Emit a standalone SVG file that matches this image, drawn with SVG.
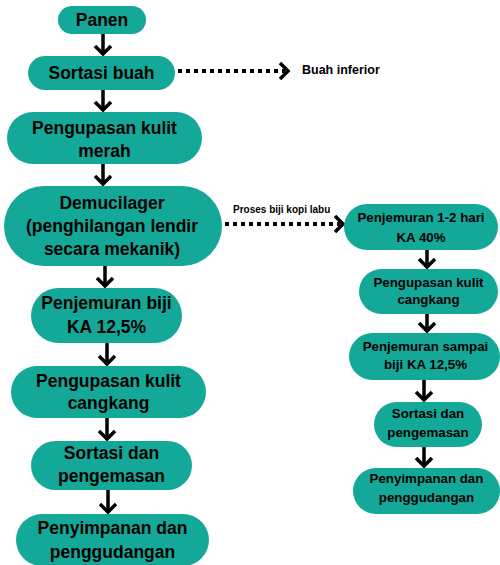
<svg xmlns="http://www.w3.org/2000/svg" width="500" height="565" viewBox="0 0 500 565">
<style>
.n{fill:#14a899;}
.t{font-family:"Liberation Sans",Arial,sans-serif;font-weight:bold;fill:#000;text-anchor:middle;font-size:17.5px;}
.s{font-size:13.3px;}
.a{stroke:#000;stroke-width:3.5;fill:none;}
.d{stroke:#000;stroke-width:4;fill:none;stroke-dasharray:4 4;}
.l{font-family:"Liberation Sans",Arial,sans-serif;font-weight:bold;fill:#000;}
</style>
<defs>
<marker id="ah" markerUnits="userSpaceOnUse" viewBox="-12 -12 14 24" refX="0" refY="0" markerWidth="14" markerHeight="24" orient="auto" overflow="visible">
<path d="M-8,-8 L0,0 L-8,8" stroke="#000" stroke-width="3.5" fill="none"/>
</marker>
</defs>
<g id="connectors">
<line class="a" x1="103" y1="34" x2="103" y2="54" marker-end="url(#ah)"/>
<line class="a" x1="103" y1="90" x2="103" y2="110" marker-end="url(#ah)"/>
<line class="a" x1="103" y1="164" x2="103" y2="184" marker-end="url(#ah)"/>
<line class="a" x1="105" y1="266" x2="105" y2="286" marker-end="url(#ah)"/>
<line class="a" x1="107" y1="343" x2="107" y2="364" marker-end="url(#ah)"/>
<line class="a" x1="107" y1="418" x2="107" y2="439" marker-end="url(#ah)"/>
<line class="a" x1="108" y1="490" x2="108" y2="512" marker-end="url(#ah)"/>
<line class="a" x1="427" y1="250" x2="427" y2="267" marker-end="url(#ah)"/>
<line class="a" x1="427" y1="314" x2="427" y2="331" marker-end="url(#ah)"/>
<line class="a" x1="424" y1="380" x2="424" y2="400" marker-end="url(#ah)"/>
<line class="a" x1="424" y1="447" x2="424" y2="466" marker-end="url(#ah)"/>
<line class="d" x1="178" y1="71" x2="285" y2="71"/>
<path d="M280,63 L288,71 L280,79" class="a"/>
<line class="d" x1="225" y1="224" x2="340" y2="224"/>
<path d="M335,216 L343,224 L335,232" class="a"/>
<text class="l" x="302" y="74" font-size="12.5">Buah inferior</text>
<text class="l" x="233" y="212.5" font-size="10">Proses biji kopi labu</text>
</g>
<g id="panen"><rect class="n" x="58" y="6" width="88" height="28" rx="14"/><text class="t" x="102" y="26">Panen</text></g>
<g id="sortasi-buah"><rect class="n" x="28" y="56" width="147" height="34" rx="17"/><text class="t" x="101.5" y="79">Sortasi buah</text></g>
<g id="pengupasan-merah"><rect class="n" x="7" y="112" width="195" height="52" rx="26"/><text class="t" x="104.5" y="134">Pengupasan kulit</text><text class="t" x="104.5" y="157">merah</text></g>
<g id="demucilager"><rect class="n" x="4" y="186" width="218" height="80" rx="40"/><text class="t" x="112" y="209">Demucilager</text><text class="t" x="112" y="232">(penghilangan lendir</text><text class="t" x="112" y="255">secara mekanik)</text></g>
<g id="penjemuran-biji"><rect class="n" x="31" y="288" width="151" height="55" rx="27.5"/><text class="t" x="106.5" y="309">Penjemuran biji</text><text class="t" x="106.5" y="333">KA 12,5%</text></g>
<g id="pengupasan-cangkang"><rect class="n" x="11" y="366" width="195" height="52" rx="26"/><text class="t" x="108.5" y="387">Pengupasan kulit</text><text class="t" x="108.5" y="409">cangkang</text></g>
<g id="sortasi-pengemasan"><rect class="n" x="31" y="441" width="161" height="49" rx="24.5"/><text class="t" x="111.5" y="459">Sortasi dan</text><text class="t" x="111.5" y="482">pengemasan</text></g>
<g id="penyimpanan"><rect class="n" x="16" y="514" width="193" height="52" rx="26"/><text class="t" x="112.5" y="534">Penyimpanan dan</text><text class="t" x="112.5" y="558">penggudangan</text></g>
<g id="r-penjemuran-40"><rect class="n" x="344" y="204" width="154" height="46" rx="23"/><text class="t s" x="421" y="222">Penjemuran 1-2 hari</text><text class="t s" x="421" y="242">KA 40%</text></g>
<g id="r-pengupasan"><rect class="n" x="359" y="269" width="139" height="45" rx="22.5"/><text class="t s" x="428.5" y="287">Pengupasan kulit</text><text class="t s" x="428.5" y="304">cangkang</text></g>
<g id="r-penjemuran-125"><rect class="n" x="349" y="333" width="151" height="47" rx="23.5"/><text class="t s" x="425.5" y="351">Penjemuran sampai</text><text class="t s" x="425.5" y="369">biji KA 12,5%</text></g>
<g id="r-sortasi"><rect class="n" x="374" y="402" width="108" height="45" rx="22.5"/><text class="t s" x="428" y="418">Sortasi dan</text><text class="t s" x="428" y="437">pengemasan</text></g>
<g id="r-penyimpanan"><rect class="n" x="353" y="468" width="147" height="46" rx="23"/><text class="t s" x="426.5" y="483">Penyimpanan dan</text><text class="t s" x="426.5" y="502">penggudangan</text></g>
</svg>
